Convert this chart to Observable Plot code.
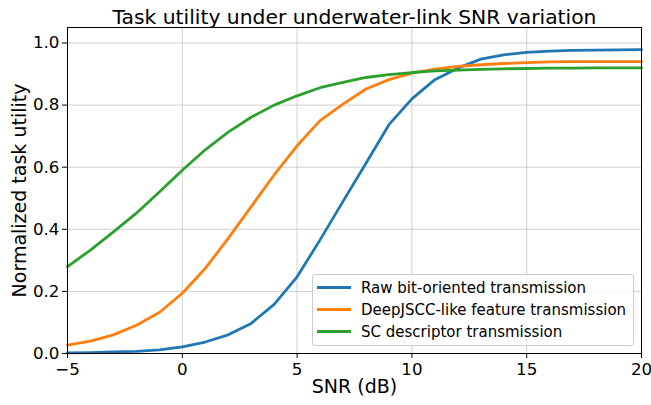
<!DOCTYPE html>
<html>
<head>
<meta charset="utf-8">
<script src="https://cdn.jsdelivr.net/npm/d3@7"></script>
<script src="https://cdn.jsdelivr.net/npm/@observablehq/plot@0.6"></script>
<style>
  body { margin: 0; background: white; }
  #wrap { position: relative; width: 651px; height: 405px; font-family: "DejaVu Sans", sans-serif; }
  #legend { position: absolute; left: 311.5px; top: 274px; width: 322px; height: 72px; box-sizing: border-box;
    border: 1px solid #cccccc; border-radius: 3px; background: rgba(255,255,255,0.8); }
  .row { position: absolute; left: 0; height: 22px; width: 100%; font-size: 15px; color: black; }
  .row .sw { position: absolute; left: 4px; top: 9.6px; width: 34px; height: 2.8px; }
  .row .lb { position: absolute; left: 48.5px; top: 0; line-height: 22px; white-space: nowrap; }
</style>
</head>
<body>
<div id="wrap"></div>
<script>
const snr = [-5,-4,-3,-2,-1,0,1,2,3,4,5,6,7,8,9,10,11,12,13,14,15,16,17,18,19,20];
const rawBit = [0.002,0.003,0.005,0.007,0.012,0.021,0.037,0.060,0.097,0.158,0.247,0.366,0.490,0.613,0.737,0.820,0.882,0.919,0.948,0.962,0.970,0.974,0.976,0.977,0.978,0.979];
const deepJSCC = [0.027,0.040,0.060,0.091,0.132,0.194,0.274,0.371,0.473,0.575,0.669,0.750,0.803,0.852,0.882,0.903,0.916,0.925,0.930,0.934,0.937,0.939,0.940,0.940,0.940,0.940];
const scDescriptor = [0.280,0.333,0.392,0.452,0.520,0.590,0.656,0.713,0.761,0.800,0.830,0.856,0.873,0.889,0.898,0.905,0.910,0.913,0.915,0.917,0.918,0.919,0.919,0.920,0.920,0.920];
const seriesNames = ["Raw bit-oriented transmission", "DeepJSCC-like feature transmission", "SC descriptor transmission"];
const seriesColors = ["#1f77b4", "#ff7f0e", "#2ca02c"];
const xTicks = [-5, 0, 5, 10, 15, 20];
const yTicks = [0.0, 0.2, 0.4, 0.6, 0.8, 1.0];
const titleText = "Task utility under underwater-link SNR variation";
const xLabel = "SNR (dB)";
const yLabel = "Normalized task utility";

const seriesValues = [rawBit, deepJSCC, scDescriptor];
const rows = [];
seriesValues.forEach((vals, i) => vals.forEach((v, j) => rows.push({snr: snr[j], value: v, series: seriesNames[i]})));

const chart = Plot.plot({
  width: 651, height: 405,
  marginLeft: 67, marginRight: 10, marginTop: 27, marginBottom: 52,
  style: {fontFamily: "DejaVu Sans", fontSize: "16.7px", color: "black", background: "white", overflow: "visible"},
  x: {domain: [-5, 20]},
  y: {domain: [0, 1.05]},
  color: {domain: seriesNames, range: seriesColors},
  marks: [
    Plot.gridX(xTicks, {stroke: "#b0b0b0", strokeOpacity: 0.75, strokeWidth: 0.8}),
    Plot.gridY(yTicks, {stroke: "#b0b0b0", strokeOpacity: 0.75, strokeWidth: 0.8}),
    Plot.line(rows, {x: "snr", y: "value", z: "series", stroke: "series", strokeWidth: 2.8}),
    Plot.frame({stroke: "black", strokeWidth: 1}),
    Plot.axisX(xTicks, {tickSize: 5, tickPadding: 5, label: null, tickFormat: d3.format("d")}),
    Plot.axisY(yTicks, {tickSize: 5, tickPadding: 3, label: null, tickFormat: d3.format(".1f")}),
    Plot.text([titleText], {text: d => d, frameAnchor: "top", lineAnchor: "bottom", dy: -4, fontSize: 20.3}),
    Plot.text([xLabel], {text: d => d, frameAnchor: "bottom", lineAnchor: "bottom", dy: 39, fontSize: 19}),
    Plot.text([yLabel], {text: d => d, frameAnchor: "left", textAnchor: "middle", rotate: -90, dx: -48, fontSize: 19})
  ]
});
const wrap = document.getElementById("wrap");
wrap.appendChild(chart);

const legend = document.createElement("div");
legend.id = "legend";
seriesNames.forEach((name, i) => {
  const row = document.createElement("div");
  row.className = "row";
  row.style.top = (1.5 + i * 22.2) + "px";
  const sw = document.createElement("div");
  sw.className = "sw";
  sw.style.background = seriesColors[i];
  const lb = document.createElement("div");
  lb.className = "lb";
  lb.textContent = name;
  row.appendChild(sw); row.appendChild(lb);
  legend.appendChild(row);
});
wrap.appendChild(legend);
</script>
</body>
</html>
